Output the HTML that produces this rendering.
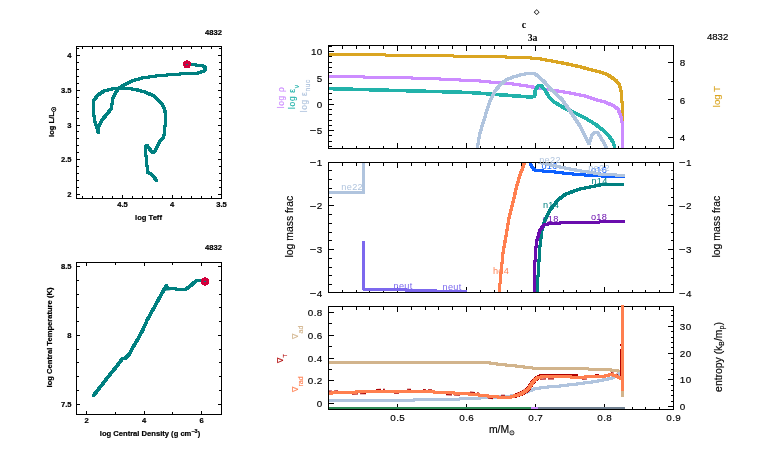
<!DOCTYPE html>
<html><head><meta charset="utf-8"><style>
html,body{margin:0;padding:0;background:#fff;width:766px;height:460px;overflow:hidden}
svg{display:block;will-change:transform}
</style></head><body>
<svg width="766" height="460" viewBox="0 0 766 460" font-family="Liberation Sans, sans-serif">
<rect width="766" height="460" fill="#fff"/>
<defs><filter id="sq" filterUnits="userSpaceOnUse" x="0" y="0" width="766" height="460"><feMorphology operator="dilate" radius="1"/></filter></defs>
<g shape-rendering="crispEdges">
<rect x="76.5" y="46.5" width="145" height="152" fill="none" stroke="#000"/>
<rect x="76.5" y="262.5" width="145" height="152" fill="none" stroke="#000"/>
<rect x="328.5" y="45.5" width="345" height="103" fill="none" stroke="#000"/>
<rect x="328.5" y="162.5" width="345" height="130" fill="none" stroke="#000"/>
<rect x="328.5" y="306.5" width="345" height="103" fill="none" stroke="#000"/>
<path d="M82.5 47L82.5 49M82.5 198L82.5 196M92.5 47L92.5 49M92.5 198L92.5 196M102.5 47L102.5 49M102.5 198L102.5 196M112.5 47L112.5 49M112.5 198L112.5 196M122.5 47L122.5 50M122.5 198L122.5 195M132.5 47L132.5 49M132.5 198L132.5 196M142.5 47L142.5 49M142.5 198L142.5 196M152.5 47L152.5 49M152.5 198L152.5 196M162.5 47L162.5 49M162.5 198L162.5 196M172.5 47L172.5 50M172.5 198L172.5 195M181.5 47L181.5 49M181.5 198L181.5 196M191.5 47L191.5 49M191.5 198L191.5 196M201.5 47L201.5 49M201.5 198L201.5 196M211.5 47L211.5 49M211.5 198L211.5 196M77 48.5L79 48.5M221 48.5L219 48.5M77 55.5L80 55.5M221 55.5L218 55.5M77 62.5L79 62.5M221 62.5L219 62.5M77 69.5L79 69.5M221 69.5L219 69.5M77 76.5L79 76.5M221 76.5L219 76.5M77 83.5L79 83.5M221 83.5L219 83.5M77 90.5L80 90.5M221 90.5L218 90.5M77 97.5L79 97.5M221 97.5L219 97.5M77 104.5L79 104.5M221 104.5L219 104.5M77 111.5L79 111.5M221 111.5L219 111.5M77 118.5L79 118.5M221 118.5L219 118.5M77 125.5L80 125.5M221 125.5L218 125.5M77 131.5L79 131.5M221 131.5L219 131.5M77 138.5L79 138.5M221 138.5L219 138.5M77 145.5L79 145.5M221 145.5L219 145.5M77 152.5L79 152.5M221 152.5L219 152.5M77 159.5L80 159.5M221 159.5L218 159.5M77 166.5L79 166.5M221 166.5L219 166.5M77 173.5L79 173.5M221 173.5L219 173.5M77 180.5L79 180.5M221 180.5L219 180.5M77 187.5L79 187.5M221 187.5L219 187.5M77 194.5L80 194.5M221 194.5L218 194.5M86.5 263L86.5 266M86.5 414L86.5 411M115.5 263L115.5 265M115.5 414L115.5 412M144.5 263L144.5 266M144.5 414L144.5 411M172.5 263L172.5 265M172.5 414L172.5 412M201.5 263L201.5 266M201.5 414L201.5 411M77 266.5L80 266.5M221 266.5L218 266.5M77 280.5L79 280.5M221 280.5L219 280.5M77 294.5L79 294.5M221 294.5L219 294.5M77 307.5L79 307.5M221 307.5L219 307.5M77 321.5L79 321.5M221 321.5L219 321.5M77 335.5L80 335.5M221 335.5L218 335.5M77 349.5L79 349.5M221 349.5L219 349.5M77 362.5L79 362.5M221 362.5L219 362.5M77 376.5L79 376.5M221 376.5L219 376.5M77 390.5L79 390.5M221 390.5L219 390.5M77 404.5L80 404.5M221 404.5L218 404.5M342.5 46L342.5 48.5M342.5 148L342.5 145.5M356.5 46L356.5 48.5M356.5 148L356.5 145.5M369.5 46L369.5 48.5M369.5 148L369.5 145.5M383.5 46L383.5 48.5M383.5 148L383.5 145.5M397.5 46L397.5 51M397.5 148L397.5 143M411.5 46L411.5 48.5M411.5 148L411.5 145.5M425.5 46L425.5 48.5M425.5 148L425.5 145.5M438.5 46L438.5 48.5M438.5 148L438.5 145.5M452.5 46L452.5 48.5M452.5 148L452.5 145.5M466.5 46L466.5 51M466.5 148L466.5 143M480.5 46L480.5 48.5M480.5 148L480.5 145.5M494.5 46L494.5 48.5M494.5 148L494.5 145.5M507.5 46L507.5 48.5M507.5 148L507.5 145.5M521.5 46L521.5 48.5M521.5 148L521.5 145.5M535.5 46L535.5 51M535.5 148L535.5 143M549.5 46L549.5 48.5M549.5 148L549.5 145.5M563.5 46L563.5 48.5M563.5 148L563.5 145.5M576.5 46L576.5 48.5M576.5 148L576.5 145.5M590.5 46L590.5 48.5M590.5 148L590.5 145.5M604.5 46L604.5 51M604.5 148L604.5 143M618.5 46L618.5 48.5M618.5 148L618.5 145.5M632.5 46L632.5 48.5M632.5 148L632.5 145.5M645.5 46L645.5 48.5M645.5 148L645.5 145.5M659.5 46L659.5 48.5M659.5 148L659.5 145.5M342.5 163L342.5 165.5M342.5 292L342.5 289.5M356.5 163L356.5 165.5M356.5 292L356.5 289.5M369.5 163L369.5 165.5M369.5 292L369.5 289.5M383.5 163L383.5 165.5M383.5 292L383.5 289.5M397.5 163L397.5 168M397.5 292L397.5 287M411.5 163L411.5 165.5M411.5 292L411.5 289.5M425.5 163L425.5 165.5M425.5 292L425.5 289.5M438.5 163L438.5 165.5M438.5 292L438.5 289.5M452.5 163L452.5 165.5M452.5 292L452.5 289.5M466.5 163L466.5 168M466.5 292L466.5 287M480.5 163L480.5 165.5M480.5 292L480.5 289.5M494.5 163L494.5 165.5M494.5 292L494.5 289.5M507.5 163L507.5 165.5M507.5 292L507.5 289.5M521.5 163L521.5 165.5M521.5 292L521.5 289.5M535.5 163L535.5 168M535.5 292L535.5 287M549.5 163L549.5 165.5M549.5 292L549.5 289.5M563.5 163L563.5 165.5M563.5 292L563.5 289.5M576.5 163L576.5 165.5M576.5 292L576.5 289.5M590.5 163L590.5 165.5M590.5 292L590.5 289.5M604.5 163L604.5 168M604.5 292L604.5 287M618.5 163L618.5 165.5M618.5 292L618.5 289.5M632.5 163L632.5 165.5M632.5 292L632.5 289.5M645.5 163L645.5 165.5M645.5 292L645.5 289.5M659.5 163L659.5 165.5M659.5 292L659.5 289.5M342.5 307L342.5 309.5M342.5 409L342.5 406.5M356.5 307L356.5 309.5M356.5 409L356.5 406.5M369.5 307L369.5 309.5M369.5 409L369.5 406.5M383.5 307L383.5 309.5M383.5 409L383.5 406.5M397.5 307L397.5 312M397.5 409L397.5 404M411.5 307L411.5 309.5M411.5 409L411.5 406.5M425.5 307L425.5 309.5M425.5 409L425.5 406.5M438.5 307L438.5 309.5M438.5 409L438.5 406.5M452.5 307L452.5 309.5M452.5 409L452.5 406.5M466.5 307L466.5 312M466.5 409L466.5 404M480.5 307L480.5 309.5M480.5 409L480.5 406.5M494.5 307L494.5 309.5M494.5 409L494.5 406.5M507.5 307L507.5 309.5M507.5 409L507.5 406.5M521.5 307L521.5 309.5M521.5 409L521.5 406.5M535.5 307L535.5 312M535.5 409L535.5 404M549.5 307L549.5 309.5M549.5 409L549.5 406.5M563.5 307L563.5 309.5M563.5 409L563.5 406.5M576.5 307L576.5 309.5M576.5 409L576.5 406.5M590.5 307L590.5 309.5M590.5 409L590.5 406.5M604.5 307L604.5 312M604.5 409L604.5 404M618.5 307L618.5 309.5M618.5 409L618.5 406.5M632.5 307L632.5 309.5M632.5 409L632.5 406.5M645.5 307L645.5 309.5M645.5 409L645.5 406.5M659.5 307L659.5 309.5M659.5 409L659.5 406.5M329 146.5L331.5 146.5M329 141.5L331.5 141.5M329 135.5L331.5 135.5M329 130.5L334 130.5M329 125.5L331.5 125.5M329 120.5L331.5 120.5M329 114.5L331.5 114.5M329 109.5L331.5 109.5M329 104.5L334 104.5M329 99.5L331.5 99.5M329 93.5L331.5 93.5M329 88.5L331.5 88.5M329 83.5L331.5 83.5M329 77.5L334 77.5M329 72.5L331.5 72.5M329 67.5L331.5 67.5M329 62.5L331.5 62.5M329 56.5L331.5 56.5M329 51.5L334 51.5M329 46.5L331.5 46.5M673 137.5L668 137.5M673 118.5L670.5 118.5M673 99.5L668 99.5M673 81.5L670.5 81.5M673 62.5L668 62.5M329 170.5L331.5 170.5M673 170.5L670.5 170.5M329 179.5L331.5 179.5M673 179.5L670.5 179.5M329 188.5L331.5 188.5M673 188.5L670.5 188.5M329 197.5L331.5 197.5M673 197.5L670.5 197.5M329 205.5L334 205.5M673 205.5L668 205.5M329 214.5L331.5 214.5M673 214.5L670.5 214.5M329 223.5L331.5 223.5M673 223.5L670.5 223.5M329 232.5L331.5 232.5M673 232.5L670.5 232.5M329 240.5L331.5 240.5M673 240.5L670.5 240.5M329 249.5L334 249.5M673 249.5L668 249.5M329 258.5L331.5 258.5M673 258.5L670.5 258.5M329 267.5L331.5 267.5M673 267.5L670.5 267.5M329 275.5L331.5 275.5M673 275.5L670.5 275.5M329 284.5L331.5 284.5M673 284.5L670.5 284.5M329 403.5L334 403.5M329 392.5L331.5 392.5M329 380.5L334 380.5M329 369.5L331.5 369.5M329 358.5L334 358.5M329 346.5L331.5 346.5M329 335.5L334 335.5M329 323.5L331.5 323.5M329 312.5L334 312.5M673 406.5L668 406.5M673 401.5L670.5 401.5M673 395.5L670.5 395.5M673 390.5L670.5 390.5M673 385.5L670.5 385.5M673 379.5L668 379.5M673 374.5L670.5 374.5M673 369.5L670.5 369.5M673 363.5L670.5 363.5M673 358.5L670.5 358.5M673 353.5L668 353.5M673 347.5L670.5 347.5M673 342.5L670.5 342.5M673 337.5L670.5 337.5M673 331.5L670.5 331.5M673 326.5L668 326.5M673 321.5L670.5 321.5M673 315.5L670.5 315.5M673 310.5L670.5 310.5" stroke="#000" fill="none"/>
</g>
<g font-size="9.4" letter-spacing="0.3">
<text x="363" y="190" font-size="9.2" text-anchor="end" fill="#b0c4de">ne22</text>
<text x="393.5" y="288.5" font-size="9.2" fill="#7b68ee">neut</text>
<text x="442.5" y="289.8" font-size="9.2" fill="#7b68ee">neut</text>
<text x="501" y="274" font-size="9.2" text-anchor="middle" fill="#ff7f50">he4</text>
<text x="549.5" y="168.5" font-size="9.2" text-anchor="middle" fill="#1060ff">o16</text>
<text x="550" y="163" font-size="9.2" text-anchor="middle" fill="#b0c4de">ne22</text>
<text x="599" y="172.9" font-size="9.2" text-anchor="middle" fill="#1060ff">o16</text>
<text x="599" y="171" font-size="9.2" text-anchor="middle" fill="#b0c4de">ne22</text>
<text x="599.5" y="184" font-size="9.2" text-anchor="middle" fill="#008080">n14</text>
<text x="551" y="208" font-size="9.2" text-anchor="middle" fill="#008080">n14</text>
<text x="550.5" y="222.4" font-size="9.2" text-anchor="middle" fill="#6a0dad">o18</text>
<text x="599" y="220" font-size="9.2" text-anchor="middle" fill="#6a0dad">o18</text>
</g>
<polyline points="156.6,180.6 154.0,177.0 151.0,174.0 147.4,172.0 147.0,166.0 146.4,158.0 145.0,152.0 145.6,147.0 147.0,145.6 149.0,148.0 152.6,153.0 155.0,151.0 158.0,145.0 160.0,141.0 163.8,137.4 164.3,131.5 165.3,124.2 165.9,116.9 164.7,109.6 161.6,103.5 154.3,96.2 146.0,92.4 136.0,89.6 126.0,88.0 119.0,88.0 112.0,89.0 104.0,91.0 98.0,95.0 94.0,100.0 93.0,106.0 93.6,114.0 95.0,122.0 97.0,128.0 98.4,133.0 99.0,126.0 102.0,120.0 107.0,114.0 111.0,109.0 112.0,104.0 113.0,98.0 116.0,92.0 119.0,88.0 124.0,85.0 132.0,81.0 142.0,78.0 156.0,76.0 172.0,74.6 186.0,73.6 198.0,73.0 204.0,71.0 206.0,68.0 203.0,66.0 196.0,65.0 186.6,64.4" fill="none" stroke="#008080" stroke-width="1" stroke-linejoin="round" shape-rendering="crispEdges" filter="url(#sq)" />
<path d="M186 60h2v1h2v1h1v4h-1v2h-6v-2h-1v-4h1v-1h2z" fill="#d2003c"/><rect x="186" y="64" width="2" height="1" fill="#008080"/>
<polyline points="93.3,395.8 103.2,383.3 107.8,377.2 115.4,368.0 122.2,358.9 125.3,358.2 129.1,354.4 132.9,347.5 138.2,338.4 142.8,330.0 147.1,320.2 156.3,303.5 163.9,289.8 166.6,285.2 167.7,289.0 173.0,288.6 179.1,289.5 185.2,289.8 191.3,285.2 195.8,281.0 200.4,280.4 204.7,281.4" fill="none" stroke="#008080" stroke-width="1" stroke-linejoin="round" shape-rendering="crispEdges" filter="url(#sq)" />
<polygon points="164.3,290.8 166.6,284.3 170.5,290.3" fill="#008080"/>
<path d="M204 277h2v1h2v1h1v5h-1v1h-2v1h-2v-1h-2v-1h-1v-5h1v-1h2z" fill="#d2003c"/><rect x="204" y="281" width="2" height="1" fill="#008080"/>
<clipPath id="c1"><rect x="329" y="46" width="344" height="102"/></clipPath>
<clipPath id="c2"><rect x="329" y="163" width="344" height="129"/></clipPath>
<clipPath id="c3"><rect x="329" y="305" width="344" height="104"/></clipPath>
<g clip-path="url(#c1)">
<polyline points="328.0,54.4 385.0,55.0 480.0,56.4 510.0,57.1 530.0,57.9 540.0,58.9 550.0,60.7 560.0,62.5 570.0,64.5 580.0,66.8 590.0,69.5 600.0,72.0 607.0,74.5 612.0,77.5 616.0,80.5 619.0,84.0 620.5,88.0 621.5,93.0 622.0,102.0 622.6,110.0 623.0,125.0" fill="none" stroke="#daa520" stroke-width="1" stroke-linejoin="round" shape-rendering="crispEdges" filter="url(#sq)" />
<polyline points="328.0,76.4 400.0,77.6 440.0,79.0 470.0,80.5 480.0,81.0 495.0,82.5 510.0,83.5 530.0,86.5 540.0,88.5 555.0,90.5 570.0,93.0 585.0,96.0 597.0,100.0 605.0,102.0 613.0,105.5 618.0,109.0 620.5,115.0 622.0,122.0 622.2,149.0" fill="none" stroke="#cc8cff" stroke-width="1" stroke-linejoin="round" shape-rendering="crispEdges" filter="url(#sq)" />
<polyline points="328.0,88.6 470.0,92.5 510.0,95.5 530.0,97.0 534.5,96.5 535.5,90.0" fill="none" stroke="#20b2aa" stroke-width="1.5" stroke-linejoin="round" shape-rendering="crispEdges" filter="url(#sq)" />
<polyline points="534.5,96.5 535.5,90.0 538.0,86.0 541.0,85.5 545.0,90.0 549.0,97.0 554.0,102.0 560.0,105.5 566.0,109.0 575.0,113.0 585.0,118.0 595.0,124.0 603.0,130.0 609.0,136.0 613.0,142.0 614.5,146.0 615.0,149.0" fill="none" stroke="#20b2aa" stroke-width="1" stroke-linejoin="round" shape-rendering="crispEdges" filter="url(#sq)" />
<polyline points="477.8,149.0 478.0,144.0 479.5,135.0 481.5,128.0 484.0,120.0 487.0,110.0 490.5,100.0 495.0,91.0 500.0,85.0 506.0,80.0 513.0,77.0 522.0,74.5 529.0,73.4 534.5,73.6 539.0,77.0 545.0,82.5 550.0,88.5 556.0,94.0 562.0,99.5 568.0,108.0 574.0,117.0 580.0,126.0 585.0,136.0 589.0,144.0 592.0,135.0 595.0,132.0 598.0,133.0 601.0,138.0 604.0,143.0 607.0,149.0" fill="none" stroke="#b0c4de" stroke-width="1" stroke-linejoin="round" shape-rendering="crispEdges" filter="url(#sq)" />
</g>
<g clip-path="url(#c2)">
<polyline points="328.0,192.4 363.6,192.4 363.6,160.0" fill="none" stroke="#b0c4de" stroke-width="1" stroke-linejoin="round" shape-rendering="crispEdges" filter="url(#sq)" />
<polyline points="363.5,242.2 363.5,289.0 390.0,289.0 414.0,290.5 436.0,291.0 466.5,291.5" fill="none" stroke="#7b68ee" stroke-width="1" stroke-linejoin="round" shape-rendering="crispEdges" filter="url(#sq)" />
<polyline points="525.0,160.0 524.5,163.0 520.0,175.0 517.0,185.0 513.0,202.0 509.0,218.0 506.0,236.0 503.1,252.2 501.3,270.4 499.5,288.7 499.2,293.0" fill="none" stroke="#ff7f50" stroke-width="1" stroke-linejoin="round" shape-rendering="crispEdges" filter="url(#sq)" />
<polyline points="530.0,160.0 530.2,162.5 531.7,166.4 534.5,170.0 543.5,171.1 555.2,172.0 567.0,173.5 580.0,174.7 593.8,175.5 602.0,176.0 611.5,176.8 623.8,176.8" fill="none" stroke="#1060ff" stroke-width="1" stroke-linejoin="round" shape-rendering="crispEdges" filter="url(#sq)" />
<polyline points="538.0,160.0 539.6,162.5 547.4,164.1 559.2,166.8 571.0,169.2 580.0,170.8 593.8,173.0 602.0,174.5 623.8,175.3" fill="none" stroke="#b0c4de" stroke-width="1" stroke-linejoin="round" shape-rendering="crispEdges" filter="url(#sq)" />
<polyline points="623.8,184.0 600.0,185.0 580.0,189.0 566.0,194.0 558.0,200.0 550.0,210.0 545.0,220.0 542.0,230.0 540.0,246.0 539.7,252.2 538.2,270.4 537.5,293.0" fill="none" stroke="#008080" stroke-width="1" stroke-linejoin="round" shape-rendering="crispEdges" filter="url(#sq)" />
<polyline points="623.8,221.6 600.0,222.0 570.0,222.4 550.0,223.6 544.0,225.0 540.0,230.0 537.0,240.0 535.6,250.0 534.6,268.0 534.2,293.0" fill="none" stroke="#6a0dad" stroke-width="1" stroke-linejoin="round" shape-rendering="crispEdges" filter="url(#sq)" />
</g>
<g clip-path="url(#c3)">
<polyline points="328.0,362.4 460.0,362.0 486.0,362.4 500.0,364.4 516.0,366.0 532.0,368.0 560.0,368.4 588.0,369.0 603.5,369.4 617.6,370.5 620.4,372.9 622.0,376.0 622.0,396.3" fill="none" stroke="#d2b48c" stroke-width="1" stroke-linejoin="round" shape-rendering="crispEdges" filter="url(#sq)" />
<polyline points="328.0,400.4 405.0,400.2 460.0,399.0 500.0,397.0 516.0,395.5 526.0,392.3 534.0,389.0 544.0,387.3 560.0,386.0 580.0,383.6 595.6,381.5 611.3,378.3 617.6,375.2 620.0,373.6" fill="none" stroke="#b0c4de" stroke-width="1" stroke-linejoin="round" shape-rendering="crispEdges" filter="url(#sq)" />
<path d="M329.0 391.16L332.0 391.03M334.0 390.94L338.0 390.77M352.0 394.16L358.0 393.90M360.0 393.82L366.0 393.59M376.0 389.44L381.0 389.37M383.0 389.34L385.0 389.31M394.0 393.19L399.0 393.11M407.0 389.26L411.0 389.36M423.0 389.64L426.0 389.71M428.0 389.75L432.0 389.90M446.0 394.60L452.0 394.90M454.0 395.00L460.0 395.30M470.0 392.10L475.0 392.50M477.0 392.74L479.0 392.98M488.0 398.06L493.0 398.59M501.0 395.25L505.0 395.25M517.0 393.20L520.0 392.30M522.0 391.24L526.0 388.66M540.0 379.18L546.0 378.90M548.0 378.90L554.0 378.90M564.0 374.90L569.0 374.96M571.0 375.01L573.0 375.05M582.0 379.12L587.0 378.93M595.0 374.63L599.0 374.47M611.0 372.47L614.0 373.32M616.0 374.00L618.0 374.92" stroke="#b00000" stroke-width="1.1" fill="none"/>
<polyline points="515.0,395.8 520.0,394.3 524.7,391.8 528.7,388.3 531.7,383.9 534.6,379.9 537.6,377.6 541.6,376.1 566.0,376.1 577.0,376.3" fill="none" stroke="#b00000" stroke-width="2" stroke-linejoin="round" shape-rendering="crispEdges" filter="url(#sq)" />
<path d="M620.5 351V378M620.5 344v1.5M620.5 348.5v2" stroke="#b00000" stroke-width="1" fill="none" shape-rendering="crispEdges"/>
<polyline points="328.0,393.2 365.0,391.6 400.0,391.1 430.0,391.8 460.0,393.3 475.0,394.5 490.0,396.3 500.0,397.2 510.0,397.2 515.0,395.8 520.0,394.3 524.7,391.8 528.7,388.3 531.7,383.9 534.6,379.9 537.6,377.6 541.6,376.9 566.0,376.9 580.0,377.2 603.5,376.3 611.3,374.4 616.0,376.0 621.0,378.3 622.5,378.3 622.5,390.0" fill="none" stroke="#ff7f50" stroke-width="1" stroke-linejoin="round" shape-rendering="crispEdges" filter="url(#sq)" />
<polyline points="622.5,305.5 622.5,390.0" fill="none" stroke="#ff7f50" stroke-width="1" stroke-linejoin="round" shape-rendering="crispEdges" filter="url(#sq)" />
<polyline points="328.0,408.0 532.3,408.0" fill="none" stroke="#2e8b57" stroke-width="1" stroke-linejoin="round" shape-rendering="crispEdges" filter="url(#sq)" />
<polyline points="532.3,408.0 539.0,408.0" fill="none" stroke="#cc8cff" stroke-width="1" stroke-linejoin="round" shape-rendering="crispEdges" filter="url(#sq)" />
<polyline points="539.0,408.0 623.8,408.0" fill="none" stroke="#708090" stroke-width="1" stroke-linejoin="round" shape-rendering="crispEdges" filter="url(#sq)" />
</g>
<g font-size="7.6" font-weight="bold" stroke="#000" stroke-width="0.2">
<text x="222" y="34.6" font-size="7.6" text-anchor="end">4832</text>
<text x="222" y="250" font-size="7.6" text-anchor="end">4832</text>
<text x="122.5" y="206.6" font-size="7.6" text-anchor="middle">4.5</text>
<text x="172" y="206.6" font-size="7.6" text-anchor="middle">4</text>
<text x="221.5" y="206.6" font-size="7.6" text-anchor="middle">3.5</text>
<text x="71.5" y="58" font-size="7.6" text-anchor="end">4</text>
<text x="71.5" y="92.75" font-size="7.6" text-anchor="end">3.5</text>
<text x="71.5" y="127.5" font-size="7.6" text-anchor="end">3</text>
<text x="71.5" y="162.25" font-size="7.6" text-anchor="end">2.5</text>
<text x="71.5" y="197" font-size="7.6" text-anchor="end">2</text>
<text x="148.5" y="220.2" font-size="7.6" text-anchor="middle">log Teff</text>
<text transform="translate(53.5 122) rotate(-90)" text-anchor="middle">log L/L<tspan font-size="5.5" dy="2">☉</tspan></text>
<text x="86.5" y="423" font-size="7.6" text-anchor="middle">2</text>
<text x="144" y="423" font-size="7.6" text-anchor="middle">4</text>
<text x="201.5" y="423" font-size="7.6" text-anchor="middle">6</text>
<text x="71.5" y="269.2" font-size="7.6" text-anchor="end">8.5</text>
<text x="71.5" y="338.1" font-size="7.6" text-anchor="end">8</text>
<text x="71.5" y="407" font-size="7.6" text-anchor="end">7.5</text>
<text x="150" y="436" text-anchor="middle">log Central Density (g cm<tspan font-size="5.5" dy="-3">−3</tspan><tspan dy="3">)</tspan></text>
<text transform="translate(52 337.5) rotate(-90)" text-anchor="middle">log Central Temperature (K)</text>
</g>
<g font-size="10.4" stroke="#000" stroke-width="0.15">
<g letter-spacing="0.35">
<text x="322.6" y="55.25" font-size="9.9" text-anchor="end">10</text>
<text x="322.6" y="81.575" font-size="9.9" text-anchor="end">5</text>
<text x="322.6" y="107.9" font-size="9.9" text-anchor="end">0</text>
<text x="322.6" y="134.225" font-size="9.9" text-anchor="end"><tspan dy="-0.8">–</tspan><tspan dx="0.6" dy="0.8">5</tspan></text>
<text x="679.8" y="66.1" font-size="9.9">8</text>
<text x="679.8" y="103.5" font-size="9.9">6</text>
<text x="679.8" y="140.9" font-size="9.9">4</text>
<text x="322.6" y="165.64" font-size="9.9" text-anchor="end"><tspan dy="-0.8">–</tspan><tspan dx="0.6" dy="0.8">1</tspan></text>
<text x="679.6" y="165.64" font-size="9.9"><tspan dy="-0.8">–</tspan><tspan dx="0.6" dy="0.8">1</tspan></text>
<text x="322.6" y="209.44" font-size="9.9" text-anchor="end"><tspan dy="-0.8">–</tspan><tspan dx="0.6" dy="0.8">2</tspan></text>
<text x="679.6" y="209.44" font-size="9.9"><tspan dy="-0.8">–</tspan><tspan dx="0.6" dy="0.8">2</tspan></text>
<text x="322.6" y="253.24" font-size="9.9" text-anchor="end"><tspan dy="-0.8">–</tspan><tspan dx="0.6" dy="0.8">3</tspan></text>
<text x="679.6" y="253.24" font-size="9.9"><tspan dy="-0.8">–</tspan><tspan dx="0.6" dy="0.8">3</tspan></text>
<text x="322.6" y="297.04" font-size="9.9" text-anchor="end"><tspan dy="-0.8">–</tspan><tspan dx="0.6" dy="0.8">4</tspan></text>
<text x="679.6" y="297.04" font-size="9.9"><tspan dy="-0.8">–</tspan><tspan dx="0.6" dy="0.8">4</tspan></text>
<text x="322.6" y="316.2" font-size="9.9" text-anchor="end">0.8</text>
<text x="322.6" y="338.95" font-size="9.9" text-anchor="end">0.6</text>
<text x="322.6" y="361.7" font-size="9.9" text-anchor="end">0.4</text>
<text x="322.6" y="384.45" font-size="9.9" text-anchor="end">0.2</text>
<text x="322.6" y="407.2" font-size="9.9" text-anchor="end">0</text>
<text x="679.8" y="330.24" font-size="9.9">30</text>
<text x="679.8" y="356.86" font-size="9.9">20</text>
<text x="679.8" y="383.48" font-size="9.9">10</text>
<text x="679.8" y="410.1" font-size="9.9">0</text>
<text x="397.7" y="420.8" font-size="9.9" text-anchor="middle">0.5</text>
<text x="466.7" y="420.8" font-size="9.9" text-anchor="middle">0.6</text>
<text x="535.7" y="420.8" font-size="9.9" text-anchor="middle">0.7</text>
<text x="604.7" y="420.8" font-size="9.9" text-anchor="middle">0.8</text>
<text x="673.7" y="420.8" font-size="9.9" text-anchor="middle">0.9</text>
</g>
<text x="502" y="433" text-anchor="middle">m/M<tspan font-size="7" dy="2">⊙</tspan></text>
<text x="728.3" y="39.9" text-anchor="end" font-size="9.6">4832</text>
<text transform="translate(292.8 226.6) rotate(-90)" text-anchor="middle">log mass frac</text>
<text transform="translate(719.8 226.6) rotate(-90)" text-anchor="middle">log mass frac</text>
<text transform="translate(720.2 96.6) rotate(-90)" text-anchor="middle" fill="#daa520" stroke="#daa520" font-size="9.6">log T</text>
<text transform="translate(284.3 108.3) rotate(-90)" fill="#cc8cff" stroke="#cc8cff" font-size="8.4" letter-spacing="0.7">log ρ</text>
<text transform="translate(295.2 109) rotate(-90)" fill="#20b2aa" stroke="#20b2aa" font-size="8.4" letter-spacing="0.7">log ε<tspan font-size="6.5" dy="3.5">ν</tspan></text>
<text transform="translate(306.6 112.3) rotate(-90)" fill="#b0c4de" stroke="#b0c4de" font-size="8.4" letter-spacing="0.7">log ε<tspan font-size="6.5" dy="3.5">nuc</tspan></text>
<text transform="translate(722 357) rotate(-90)" text-anchor="middle">entropy (k<tspan font-size="7" dy="2">B</tspan><tspan dy="-2">/m</tspan><tspan font-size="7" dy="2">p</tspan><tspan dy="-2">)</tspan></text>
<text transform="translate(298 338.6) rotate(-90)" fill="#d2b48c" stroke="#d2b48c" font-size="8">∇<tspan font-size="7.2" dy="5.2">ad</tspan></text>
<text transform="translate(283.4 362.6) rotate(-90)" fill="#b00000" stroke="#b00000" font-size="8">∇<tspan font-size="5.6" dy="4">T</tspan></text>
<text transform="translate(298 391.6) rotate(-90)" fill="#ff7f50" stroke="#ff7f50" font-size="8">∇<tspan font-size="7.2" dy="5.2">rad</tspan></text>
</g>
<text x="536.6" y="14.2" font-size="7" text-anchor="middle" font-weight="bold" font-family="Liberation Serif, serif">◇</text>
<text x="524.1" y="28" font-size="10" text-anchor="middle" font-weight="bold" font-family="Liberation Serif, serif">c</text>
<text x="532.6" y="40.8" font-size="9.8" text-anchor="middle" font-weight="bold" font-family="Liberation Serif, serif">3a</text>
</svg>
</body></html>
